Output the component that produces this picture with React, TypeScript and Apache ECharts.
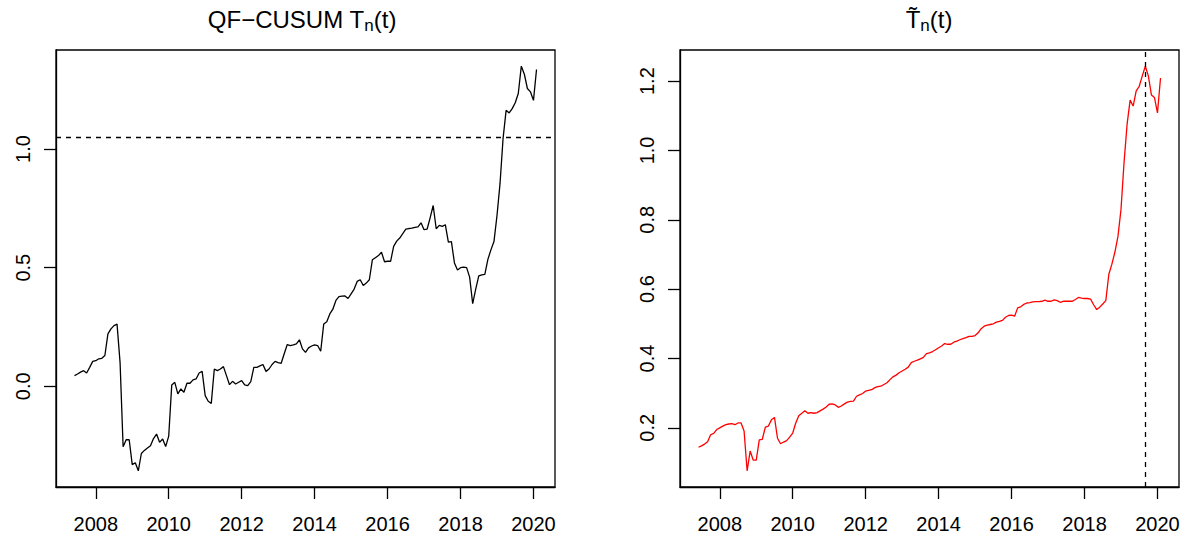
import React, { useEffect, useRef } from "react";
import * as echarts from "echarts";

const START_YEAR = 2007;
const START_MONTH = 6; // June 2007, monthly observations
const X_TICKS = [2008, 2010, 2012, 2014, 2016, 2018, 2020];
const LEFT_Y_TICKS = [0, 0.5, 1.0];
const RIGHT_Y_TICKS = [0.2, 0.4, 0.6, 0.8, 1.0, 1.2];
const THRESHOLD = 1.05;
const BREAK_DATE = 2019 + 8 / 12; // Sep 2019

const qfCusum = [
  0.045, 0.052, 0.060, 0.066, 0.056, 0.080, 0.105, 0.108, 0.116, 0.118,
  0.130, 0.221, 0.242, 0.256, 0.262, 0.100, -0.255, -0.225, -0.225, -0.330,
  -0.322, -0.356, -0.283, -0.270, -0.260, -0.250, -0.220, -0.201, -0.236, -0.222,
  -0.254, -0.210, 0.006, 0.017, -0.032, -0.011, -0.025, 0.013, 0.013, 0.027,
  0.031, 0.056, 0.063, -0.039, -0.063, -0.072, 0.073, 0.066, 0.073, 0.083,
  0.045, 0.007, 0.021, 0.010, 0.017, 0.024, 0.006, 0.003, 0.020, 0.080,
  0.080, 0.086, 0.092, 0.063, 0.073, 0.092, 0.105, 0.100, 0.097, 0.137,
  0.176, 0.172, 0.175, 0.179, 0.196, 0.158, 0.143, 0.162, 0.170, 0.175,
  0.172, 0.148, 0.263, 0.272, 0.305, 0.325, 0.362, 0.378, 0.380, 0.381,
  0.370, 0.390, 0.410, 0.442, 0.449, 0.425, 0.435, 0.449, 0.533, 0.542,
  0.551, 0.565, 0.525, 0.527, 0.527, 0.590, 0.612, 0.625, 0.643, 0.662,
  0.665, 0.667, 0.670, 0.672, 0.689, 0.660, 0.662, 0.710, 0.762, 0.664,
  0.678, 0.674, 0.681, 0.608, 0.610, 0.520, 0.490, 0.500, 0.502, 0.500,
  0.460, 0.348, 0.410, 0.465, 0.470, 0.472, 0.535, 0.575, 0.610, 0.720,
  0.855, 1.045, 1.163, 1.152, 1.170, 1.195, 1.234, 1.349, 1.315, 1.255,
  1.241, 1.205, 1.335,
];

const tildeT = [
  0.144, 0.148, 0.153, 0.160, 0.180, 0.184, 0.195, 0.200, 0.205, 0.209,
  0.211, 0.212, 0.209, 0.214, 0.214, 0.191, 0.076, 0.133, 0.107, 0.107,
  0.165, 0.167, 0.202, 0.205, 0.223, 0.230, 0.170, 0.154, 0.159, 0.163,
  0.173, 0.185, 0.214, 0.235, 0.242, 0.249, 0.242, 0.244, 0.242, 0.244,
  0.249, 0.254, 0.260, 0.268, 0.269, 0.266, 0.259, 0.263, 0.269, 0.274,
  0.276, 0.277, 0.291, 0.295, 0.299, 0.306, 0.308, 0.310, 0.316, 0.319,
  0.320, 0.325, 0.330, 0.339, 0.347, 0.352, 0.359, 0.364, 0.369, 0.375,
  0.388, 0.392, 0.395, 0.399, 0.403, 0.414, 0.416, 0.420, 0.425, 0.431,
  0.436, 0.443, 0.441, 0.441, 0.447, 0.450, 0.454, 0.457, 0.460, 0.464,
  0.464, 0.466, 0.474, 0.486, 0.493, 0.496, 0.498, 0.500, 0.505, 0.507,
  0.510, 0.519, 0.524, 0.525, 0.522, 0.546, 0.549, 0.556, 0.560, 0.561,
  0.563, 0.564, 0.564, 0.565, 0.568, 0.565, 0.565, 0.569, 0.567, 0.562,
  0.565, 0.565, 0.565, 0.565, 0.570, 0.576, 0.574, 0.573, 0.573, 0.571,
  0.555, 0.541, 0.548, 0.557, 0.567, 0.643, 0.672, 0.707, 0.752, 0.830,
  0.965, 1.075, 1.145, 1.128, 1.172, 1.185, 1.215, 1.243, 1.215, 1.160,
  1.153, 1.108, 1.209,
];

const FONT = "'Liberation Sans', Arial, Helvetica, sans-serif";

function timeOf(i: number) {
  return START_YEAR + (START_MONTH - 1 + i) / 12;
}

// R-style axis range: data range extended by 4% on each side
function rRange(vals: number[]): [number, number] {
  const lo = Math.min(...vals);
  const hi = Math.max(...vals);
  const pad = 0.04 * (hi - lo);
  return [lo - pad, hi + pad];
}

export default function App() {
  const ref = useRef<HTMLDivElement>(null);

  useEffect(() => {
    if (!ref.current) return;
    const chart = echarts.init(ref.current, undefined, { renderer: "svg" });

    const times = qfCusum.map((_, i) => timeOf(i));
    const [xMin, xMax] = rRange([times[0], times[times.length - 1]]);
    const [y1Min, y1Max] = rRange(qfCusum);
    const [y2Min, y2Max] = rRange(tildeT);

    const leftData = qfCusum.map((v, i) => [timeOf(i), v]);
    const rightData = tildeT.map((v, i) => [timeOf(i), v]);

    const gridBase = {
      top: 50,
      width: 499,
      height: 437,
      show: true,
      borderColor: "#000",
      borderWidth: 1.3,
      backgroundColor: "transparent",
    };

    const axisLine = {
      show: true,
      onZero: false,
      lineStyle: { color: "#000", width: 1.3 },
    };

    const xAxisBase = (gridIndex: number) => ({
      type: "value" as const,
      gridIndex,
      position: "bottom" as const,
      min: xMin,
      max: xMax,
      axisLine,
      axisTick: {
        show: true,
        customValues: X_TICKS,
        length: 12,
        lineStyle: { color: "#000", width: 1.3 },
      },
      axisLabel: {
        customValues: X_TICKS,
        fontSize: 20,
        color: "#000",
        fontFamily: FONT,
        margin: 27,
        formatter: (v: number) => String(Math.round(v)),
      },
      splitLine: { show: false },
    });

    const yAxisBase = (gridIndex: number, min: number, max: number, ticks: number[]) => ({
      type: "value" as const,
      gridIndex,
      position: "left" as const,
      min,
      max,
      axisLine,
      axisTick: {
        show: true,
        customValues: ticks,
        length: 12,
        lineStyle: { color: "#000", width: 1.3 },
      },
      axisLabel: {
        customValues: ticks,
        fontSize: 20,
        color: "#000",
        fontFamily: FONT,
        rotate: 90,
        margin: 23,
        formatter: (v: number) => v.toFixed(1),
      },
      splitLine: { show: false },
    });

    const titleRich = {
      m: { fontSize: 24, lineHeight: 28, fontFamily: FONT, fill: "#000" },
      s: { fontSize: 17, lineHeight: 17, fontFamily: FONT, fill: "#000", padding: [13, 0, 0, 0] },
    };

    chart.setOption({
      animation: false,
      backgroundColor: "#fff",
      grid: [
        { ...gridBase, left: 56 },
        { ...gridBase, left: 680 },
      ],
      xAxis: [xAxisBase(0), xAxisBase(1)],
      yAxis: [
        yAxisBase(0, y1Min, y1Max, LEFT_Y_TICKS),
        yAxisBase(1, y2Min, y2Max, RIGHT_Y_TICKS),
      ],
      series: [
        {
          type: "line",
          xAxisIndex: 0,
          yAxisIndex: 0,
          data: leftData,
          showSymbol: false,
          symbol: "none",
          lineStyle: { color: "#000", width: 1.3 },
          itemStyle: { color: "#000" },
          markLine: {
            silent: true,
            symbol: ["none", "none"],
            label: { show: false },
            lineStyle: { color: "#000", width: 1.3, type: [5, 5] },
            data: [{ yAxis: THRESHOLD }],
          },
        },
        {
          type: "line",
          xAxisIndex: 1,
          yAxisIndex: 1,
          data: rightData,
          showSymbol: false,
          symbol: "none",
          lineStyle: { color: "#ff0000", width: 1.3 },
          itemStyle: { color: "#ff0000" },
          markLine: {
            silent: true,
            symbol: ["none", "none"],
            label: { show: false },
            lineStyle: { color: "#000", width: 1.3, type: [5, 5] },
            data: [{ xAxis: BREAK_DATE }],
          },
        },
      ],
      graphic: [
        {
          type: "text",
          x: 302,
          y: 19,
          style: {
            text: "{m|QF\u2212CUSUM T}{s|n}{m|(t)}",
            rich: titleRich,
            align: "center",
            verticalAlign: "middle",
            fontFamily: FONT,
            fontSize: 24,
          },
        },
        {
          type: "text",
          x: 929,
          y: 19,
          style: {
            text: "{m|T\u0303}{s|n}{m|(t)}",
            rich: titleRich,
            align: "center",
            verticalAlign: "middle",
            fontFamily: FONT,
            fontSize: 24,
          },
        },
      ],
    });

    return () => chart.dispose();
  }, []);

  return (
    <div
      ref={ref}
      style={{ position: "absolute", left: 0, top: 0, width: 1185, height: 538 }}
    />
  );
}
